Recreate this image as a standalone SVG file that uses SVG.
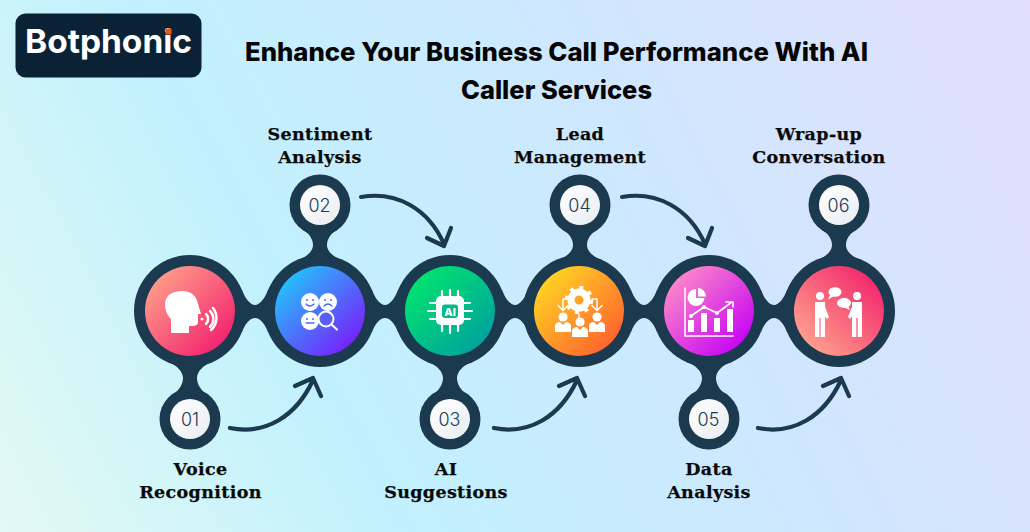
<svg xmlns="http://www.w3.org/2000/svg" width="1030" height="532" viewBox="0 0 1030 532">
<style>
.ring{fill:#1b3a4f}
.disc{fill:url(#gDisc)}
.num{font:300 18px "Inter","Liberation Sans",sans-serif;fill:#1b3a4f;text-anchor:middle}
.lab{font:700 17.5px "DejaVu Serif","Liberation Serif",serif;fill:#0a0a0a;text-anchor:middle;letter-spacing:.35px;stroke:#0a0a0a;stroke-width:.25}
.title{font:800 25.5px "Inter","Liberation Sans",sans-serif;fill:#050505;text-anchor:middle}
.arr{fill:none;stroke:#1b3a4f;stroke-width:4.2;stroke-linecap:round;stroke-linejoin:round}
.w{fill:#fff}
.wl{fill:none;stroke:#fff;stroke-linecap:round;stroke-linejoin:round}
.face{fill:none;stroke:#4a6af5;stroke-width:1.300;stroke-linecap:round}
.eye{fill:#4a6af5}
</style>
<defs>
<linearGradient id="bg" gradientUnits="userSpaceOnUse" x1="0" y1="532" x2="1030" y2="0">
<stop offset="0" stop-color="#e3f9f3"/><stop offset=".3" stop-color="#c1f1fd"/><stop offset=".65" stop-color="#cfe7fe"/><stop offset="1" stop-color="#e3dffd"/>
</linearGradient>
<linearGradient id="gDisc" x1="0" y1="0" x2="1" y2="1"><stop offset="0" stop-color="#fff"/><stop offset="1" stop-color="#e9edf1"/></linearGradient>
<linearGradient id="g1" x1="0.1" y1="0.1" x2="0.9" y2="0.9"><stop offset="0" stop-color="#ffa08a"/><stop offset="1" stop-color="#f21f6e"/></linearGradient>
<linearGradient id="g2" x1="0.1" y1="0.1" x2="0.9" y2="0.9"><stop offset="0" stop-color="#22c6fb"/><stop offset="1" stop-color="#7a1bfb"/></linearGradient>
<linearGradient id="g3" x1="0.1" y1="0.1" x2="0.9" y2="0.9"><stop offset="0" stop-color="#00e56c"/><stop offset="1" stop-color="#00a0a0"/></linearGradient>
<linearGradient id="g4" x1="0.1" y1="0.1" x2="0.9" y2="0.9"><stop offset="0" stop-color="#ffd723"/><stop offset="1" stop-color="#ff5f2e"/></linearGradient>
<linearGradient id="g5" x1="0.1" y1="0.1" x2="0.9" y2="0.9"><stop offset="0" stop-color="#ff8cc8"/><stop offset="1" stop-color="#c400f5"/></linearGradient>
<linearGradient id="g6" x1="0.9" y1="0.1" x2="0.1" y2="0.9"><stop offset="0" stop-color="#f2246c"/><stop offset="1" stop-color="#ffa58e"/></linearGradient>
<path id="neckH" d="M52,290C55,298 60,305 65,305C70,305 75,298 78,290L78,332C75,324 70,318 65,318C60,318 55,324 52,332Z"/>
<path id="neckD" d="M-22,362C-13,365 -7,372 -7,378C-7,384 -11,391 -18,395L18,395C11,391 7,384 7,378C7,372 13,365 22,362Z"/>
<path id="neckU" d="M-22,260C-13,257 -7,251 -7,245C-7,239 -11,233 -18,229.500L18,229.500C11,233 7,239 7,245C7,251 13,257 22,260Z"/>
<g id="person"><circle cx="0" cy="-7" r="4.600"/><path d="M-8,8V2C-8,-1 -5,-2 -3,-2L0,1L3,-2C5,-2 8,-1 8,2V8Z"/></g>
<g id="stander"><circle cx="0" cy="-20" r="4"/><path d="M-5,-14H5V21H0.700V2H-0.700V21H-5Z"/></g>
</defs>
<rect width="1030" height="532" fill="url(#bg)"/>
<g id="logo">
<rect x="15.500" y="13.500" width="186" height="64" rx="10" fill="#0b2236"/>
<text x="25" y="53" font-family="Inter,'Liberation Sans',sans-serif" font-weight="700" font-size="33" fill="#fff" textLength="167" lengthAdjust="spacingAndGlyphs">Botphonic</text>
<rect x="165.500" y="28.500" width="6" height="6" fill="#e8590c"/>
</g>
<g id="title">
<text class="title" x="556.500" y="61" textLength="623" lengthAdjust="spacingAndGlyphs">Enhance Your Business Call Performance With AI</text>
<text class="title" x="556.500" y="98.500" textLength="191" lengthAdjust="spacingAndGlyphs">Caller Services</text>
</g>
<g id="connectors">
<g class="ring">
<use href="#neckH" x="190"/><use href="#neckH" x="320"/><use href="#neckH" x="450"/><use href="#neckH" x="579"/><use href="#neckH" x="709"/>
<use href="#neckD" x="190"/><use href="#neckD" x="450"/><use href="#neckD" x="709"/>
<use href="#neckU" x="320"/><use href="#neckU" x="580"/><use href="#neckU" x="839"/>
</g>
<path class="arr" d="M230,428C265,435 296,417 313,380M295,386L313,378L321,396"/>
<path class="arr" d="M494,428C529,435 560,417 577,380M559,386L577,378L585,396"/>
<path class="arr" d="M758,428C793,435 824,417 841,380M823,386L841,378L849,396"/>
<path class="arr" d="M361,197C396,191 428,208 444,244M427,238L444,246L451,228"/>
<path class="arr" d="M622,197C657,191 689,208 705,244M688,238L705,246L712,228"/>
</g>
<g id="node-1">
<circle class="ring" cx="190" cy="311" r="56"/><circle cx="190" cy="311" r="45" fill="url(#g1)"/>
<path class="w" d="M171,333V319C166,314 165,308 165,304C165,296 172,291 182,291C192,291 197,297 198,304L201,314H198V322C198,326 194,326 189,326V333Z"/>
<circle class="w" cx="202" cy="319" r="1.500"/>
<g class="wl" stroke-width="2.500"><path d="M206,314A7,7 0 0 1 206,324"/><path d="M210,311A11,11 0 0 1 210,327"/><path d="M213,308A16,16 0 0 1 211,330"/></g>
</g>
<g id="node-2">
<circle class="ring" cx="320" cy="311" r="56"/><circle cx="320" cy="311" r="45" fill="url(#g2)"/>
<g class="w"><circle cx="310" cy="302" r="9"/><circle cx="328" cy="302" r="9"/><circle cx="310" cy="321" r="9"/></g>
<path class="face" d="M306,304Q310,308 314,304M324,306Q328,302 332,306M306,323H314"/>
<g class="eye"><circle cx="307" cy="300" r="1"/><circle cx="313" cy="300" r="1"/><circle cx="325" cy="300" r="1"/><circle cx="331" cy="300" r="1"/><circle cx="307" cy="319" r="1"/><circle cx="313" cy="319" r="1"/></g>
<circle cx="326" cy="319" r="7.500" fill="#5a5df8" stroke="#fff" stroke-width="2"/>
<path class="wl" stroke-width="2.200" d="M332,325L337,329.500"/>
</g>
<g id="node-3">
<circle class="ring" cx="450" cy="311" r="56"/><circle cx="450" cy="311" r="45" fill="url(#g3)"/>
<rect class="w" x="436" y="296" width="28" height="29" rx="5"/>
<g class="wl" stroke-width="2.200"><path d="M442,291V297M450,290V297M458,291V297M442,325V331M450,325V333M458,325V331M430,303H436M428,311H436M430,319H436M464,303H470M464,311H472M464,319H470"/></g>
<rect x="442" y="304.500" width="16" height="13.500" rx="3" fill="#03b98a"/>
<text x="450" y="315.500" font-family="Inter,'Liberation Sans',sans-serif" font-weight="800" font-size="11" fill="#fff" text-anchor="middle">AI</text>
</g>
<g id="node-4">
<circle class="ring" cx="579" cy="311" r="56"/><circle cx="579" cy="311" r="45" fill="url(#g4)"/>
<circle cx="579" cy="300" r="8" fill="none" stroke="#fff" stroke-width="7"/>
<circle cx="579" cy="300" r="12.500" fill="none" stroke="#fff" stroke-width="3.500" stroke-dasharray="4 5.800"/>
<g class="wl" stroke-width="1.500"><path d="M566,299H563V310M558,305.500L563,310.500L568,305.500"/><path d="M592,299H597V310M592,305.500L597,310.500L602,305.500"/><path d="M579,314V318"/></g>
<g class="w"><use href="#person" x="563" y="324"/><use href="#person" x="597" y="324"/><use href="#person" x="580" y="329"/></g>
</g>
<g id="node-5">
<circle class="ring" cx="709" cy="311" r="56"/><circle cx="709" cy="311" r="45" fill="url(#g5)"/>
<path class="wl" stroke-width="1.500" d="M685,288V336H733"/>
<g class="w"><rect x="688" y="320" width="6" height="12"/><rect x="701" y="313" width="6" height="19"/><rect x="714" y="318" width="6" height="14"/><rect x="727" y="309" width="6" height="23"/>
<path d="M696,298V289A8.500,8.500 0 1 0 704.500,298Z"/><path d="M698,296.500V288A8.500,8.500 0 0 1 706,296.500Z"/></g>
<path class="wl" stroke-width="1.600" d="M691,316L704,307L717,313L732,302M726,302H733V307"/>
<g class="w"><circle cx="691" cy="316" r="2"/><circle cx="704" cy="307" r="2"/><circle cx="717" cy="313" r="2"/></g>
</g>
<g id="node-6">
<circle class="ring" cx="839" cy="311" r="56"/><circle cx="839" cy="311" r="45" fill="url(#g6)"/>
<g class="w"><use href="#stander" x="820" y="316"/><use href="#stander" x="857" y="316"/>
<path d="M824,304L829,317L827,319L823,314Z"/><path d="M853,304L848,317L850,319L854,314Z"/>
<ellipse cx="835" cy="292" rx="6.500" ry="4.800"/><path d="M830,295L828,299.500L834,296Z"/>
<ellipse cx="844" cy="303" rx="7" ry="5"/><path d="M848,306L850,310L843,307Z"/></g>
</g>
<g id="step-01"><circle class="ring" cx="190" cy="419" r="30.500"/><circle class="disc" cx="190" cy="419" r="20"/><text class="num" x="190" y="425.500">01</text>
<text class="lab" x="200.500" y="474.500">Voice</text><text class="lab" x="200.500" y="497.500">Recognition</text></g>
<g id="step-02"><circle class="ring" cx="320" cy="205" r="30.500"/><circle class="disc" cx="320" cy="205" r="20"/><text class="num" x="319.500" y="211.500">02</text>
<text class="lab" x="320" y="139.500">Sentiment</text><text class="lab" x="320" y="162.500">Analysis</text></g>
<g id="step-03"><circle class="ring" cx="450" cy="419" r="30.500"/><circle class="disc" cx="450" cy="419" r="20"/><text class="num" x="449.500" y="425.500">03</text>
<text class="lab" x="446" y="474.500">AI</text><text class="lab" x="446" y="497.500">Suggestions</text></g>
<g id="step-04"><circle class="ring" cx="580" cy="205" r="30.500"/><circle class="disc" cx="580" cy="205" r="20"/><text class="num" x="579.500" y="211.500">04</text>
<text class="lab" x="580" y="139.500">Lead</text><text class="lab" x="580" y="162.500">Management</text></g>
<g id="step-05"><circle class="ring" cx="709" cy="419" r="30.500"/><circle class="disc" cx="709" cy="419" r="20"/><text class="num" x="708.500" y="425.500">05</text>
<text class="lab" x="709" y="474.500">Data</text><text class="lab" x="709" y="497.500">Analysis</text></g>
<g id="step-06"><circle class="ring" cx="839" cy="205" r="30.500"/><circle class="disc" cx="839" cy="205" r="20"/><text class="num" x="838.500" y="211.500">06</text>
<text class="lab" x="819" y="139.500">Wrap-up</text><text class="lab" x="819" y="162.500">Conversation</text></g>
</svg>
